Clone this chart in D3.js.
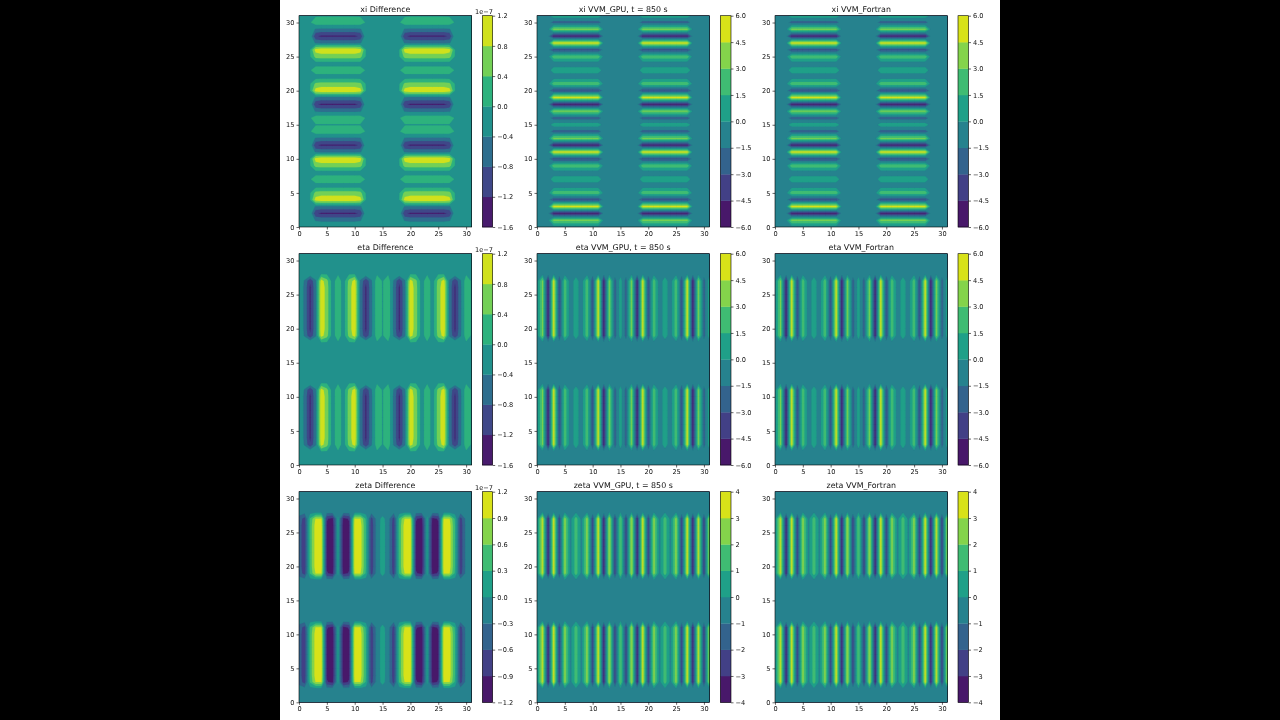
<!DOCTYPE html>
<html><head><meta charset="utf-8">
<script src="https://cdnjs.cloudflare.com/ajax/libs/d3/7.8.5/d3.min.js"></script>
<style>
html,body{margin:0;padding:0;background:#000;width:1280px;height:720px;overflow:hidden}
svg{position:absolute;left:0;top:0;display:block}
#chart{filter:blur(0.5px)}
text{font-family:"DejaVu Sans",sans-serif;fill:#111}
</style></head><body>
<svg id="chart" width="1280" height="720"></svg>
<script>
// Tick labels and contour levels
const axisTicks = [0,5,10,15,20,25,30];
const levelsDiff = [-1.6,-1.2,-0.8,-0.4,0,0.4,0.8,1.2];
const levelsZetaDiff = [-1.2,-0.9,-0.6,-0.3,0,0.3,0.6,0.9,1.2];
const levelsWind = [-6,-4.5,-3,-1.5,0,1.5,3,4.5,6];
const levelsZeta = [-4,-3,-2,-1,0,1,2,3,4];

// Value of each striped row/column at grid index 0..31
const stripesDiff = [-0.05,-0.5,-1.27,-0.5,1.1,0.6,-0.2,0.25,-0.2,0.6,1.1,-0.5,-1.27,-0.5,0.25,-0.03,0.25,-0.5,-1.27,-0.5,1.1,0.55,-0.2,0.25,-0.2,0.6,1.1,-0.5,-1.27,-0.5,0.25,-0.05];
const stripesWind = [-0.7,3.4,-5,5.1,-3.2,2.4,-0.9,0.7,-0.9,2.4,-3.2,5.1,-5,3.4,-2.2,0.7,-2.2,3.4,-5,5.1,-3.2,2.4,-0.9,0.7,-0.9,2.4,-3.2,5.1,-5,3.4,-2.2,0.9];
const stripesZetaDiff = [-0.45,-0.8,0.4,1.05,1.05,-0.95,-1.1,0.1,-1.1,-0.95,1.05,1.05,0.3,-0.8,-0.15,0.12,-0.15,-0.8,0.4,1.05,1.05,-0.95,-1.1,0.1,-1.1,-0.95,1.05,1.05,0.3,-0.8,-0.2,-0.2];
const stripesZeta = [-0.3,3.2,-3.2,3.4,-2.4,2.5,-0.4,1.5,-0.4,2.5,-2.4,3.4,-3.2,3,-2.4,2,-2.4,3,-3.2,3.4,-2.4,2.5,-0.4,1.5,-0.4,2.5,-2.4,3.4,-3.2,3.2,-2.4,2.8];
// Along-stripe strength at grid index 0..31
const envelopeDiff = [0,0,0.04,0.9,1,1,1,1,1,1,1,0.9,0.04,0,0,0,0,0,0.04,0.9,1,1,1,1,1,1,1,0.9,0.04,0,0,0];
const envelopeVVM = [0,0,0.06,1,1,1,1,1,1,1,1,1,0.06,0,0,0,0,0,0.06,1,1,1,1,1,1,1,1,1,0.06,0,0,0];
// Background value of each field
const bgDiff = -0.05, bgWind = -0.7, bgZetaDiff = -0.15, bgZeta = -0.3;

const rowTitles = ["xi","eta","zeta"];
const colTitles = [" Difference"," VVM_GPU, t = 850 s"," VVM_Fortran"];
const colX = [[299,471.7],[537,709.5],[775,947.5]];
const barX = [[482.3,492.7],[720.3,731],[958,968.5]];
const rowY = [[15.7,227],[253.7,465],[491.7,702.3]];

const panels = [
 {r:0,c:0,stripes:stripesDiff,env:envelopeDiff,bg:bgDiff,levels:levelsDiff,horizontal:true,offset:true},
 {r:0,c:1,stripes:stripesWind,env:envelopeVVM,bg:bgWind,levels:levelsWind,horizontal:true},
 {r:0,c:2,stripes:stripesWind,env:envelopeVVM,bg:bgWind,levels:levelsWind,horizontal:true},
 {r:1,c:0,stripes:stripesDiff,env:envelopeDiff,bg:bgDiff,levels:levelsDiff,horizontal:false,offset:true},
 {r:1,c:1,stripes:stripesWind,env:envelopeVVM,bg:bgWind,levels:levelsWind,horizontal:false},
 {r:1,c:2,stripes:stripesWind,env:envelopeVVM,bg:bgWind,levels:levelsWind,horizontal:false},
 {r:2,c:0,stripes:stripesZetaDiff,env:envelopeDiff,bg:bgZetaDiff,levels:levelsZetaDiff,horizontal:false,offset:true},
 {r:2,c:1,stripes:stripesZeta,env:envelopeVVM,bg:bgZeta,levels:levelsZeta,horizontal:false},
 {r:2,c:2,stripes:stripesZeta,env:envelopeVVM,bg:bgZeta,levels:levelsZeta,horizontal:false}
];

const svg = d3.select("#chart");
svg.append("rect").attr("x",280).attr("y",0).attr("width",720).attr("height",720).attr("fill","#fff");

const fs = 6.6;
function styleAxis(g){
  g.selectAll("path.domain").remove();
  g.selectAll("line").attr("stroke","#000").attr("stroke-width",0.6);
  g.selectAll("text").style("font-size",fs+"px").style("font-family",'"DejaVu Sans",sans-serif').attr("fill","#111");
}

panels.forEach((p,idx)=>{
  const [x0,x1]=colX[p.c],[y0,y1]=rowY[p.r];
  const sx=d3.scaleLinear().domain([0,31]).range([x0,x1]);
  const sy=d3.scaleLinear().domain([0,31]).range([y1,y0]);
  const n=32, grid=new Array(n*n);
  for(let j=0;j<n;j++)for(let i=0;i<n;i++){
    const cross=p.horizontal?j:i, along=p.horizontal?i:j;
    grid[j*n+i]=p.bg+p.env[along]*(p.stripes[cross]-p.bg);
  }
  const m=p.levels.length-1;
  const color=k=>d3.interpolateViridis((k+0.5)/m);
  const contours=d3.contours().size([n,n]).smooth(true).thresholds(p.levels.slice(0,-1))(grid);
  const path=d3.geoPath(d3.geoTransform({point(a,b){this.stream.point(sx(a-0.5),sy(b-0.5));}}));
  const clipId="clip"+idx;
  svg.append("clipPath").attr("id",clipId).append("rect")
     .attr("x",x0).attr("y",y0).attr("width",x1-x0).attr("height",y1-y0);
  const g=svg.append("g").attr("clip-path",`url(#${clipId})`);
  g.append("rect").attr("x",x0).attr("y",y0).attr("width",x1-x0).attr("height",y1-y0).attr("fill",color(0));
  g.selectAll("path").data(contours).join("path")
    .attr("d",path)
    .attr("fill",(d,k)=>color(k))
    .attr("stroke",(d,k)=>color(k)).attr("stroke-width",0.2);
  svg.append("rect").attr("x",x0).attr("y",y0).attr("width",x1-x0).attr("height",y1-y0)
     .attr("fill","none").attr("stroke","#000").attr("stroke-width",0.6);
  svg.append("g").attr("transform",`translate(0,${y1})`)
     .call(d3.axisBottom(sx).tickValues(axisTicks).tickSize(2.5).tickPadding(2).tickFormat(d3.format("d"))).call(styleAxis);
  svg.append("g").attr("transform",`translate(${x0},0)`)
     .call(d3.axisLeft(sy).tickValues(axisTicks).tickSize(2.5).tickPadding(2).tickFormat(d3.format("d"))).call(styleAxis);
  svg.append("text").attr("x",(x0+x1)/2).attr("y",y0-4.2).attr("text-anchor","middle")
     .style("font-size","7.9px").text(rowTitles[p.r]+colTitles[p.c]);

  // colour bar
  const [bx0,bx1]=barX[p.c];
  const sb=d3.scaleLinear().domain([p.levels[0],p.levels[m]]).range([y1,y0]);
  svg.append("g").selectAll("rect").data(d3.range(m)).join("rect")
    .attr("x",bx0).attr("width",bx1-bx0)
    .attr("y",k=>sb(p.levels[k+1])).attr("height",k=>sb(p.levels[k])-sb(p.levels[k+1])+0.3)
    .attr("fill",k=>color(k));
  svg.append("rect").attr("x",bx0).attr("y",y0).attr("width",bx1-bx0).attr("height",y1-y0)
    .attr("fill","none").attr("stroke","#000").attr("stroke-width",0.6);
  const isInt=p.levels.every(Number.isInteger);
  svg.append("g").attr("transform",`translate(${bx1},0)`)
     .call(d3.axisRight(sb).tickValues(p.levels).tickSize(2.5).tickPadding(2).tickFormat(d3.format(isInt?"d":".1f"))).call(styleAxis);
  if(p.offset){
    svg.append("text").attr("x",bx1+0.3).attr("y",y0-2.2).attr("text-anchor","end")
      .style("font-size",fs+"px").text("1e\u22127");
  }
});
</script></body></html>
